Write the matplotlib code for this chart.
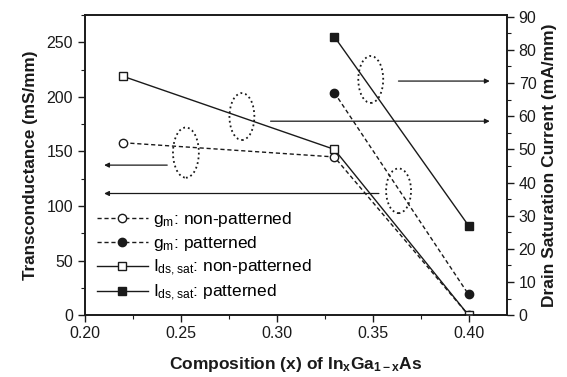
import matplotlib
matplotlib.use("Agg")
import matplotlib.pyplot as plt
from matplotlib.patches import Ellipse
from matplotlib.ticker import MultipleLocator

plt.rcParams['font.family'] = ['Liberation Sans', 'DejaVu Sans']
plt.rcParams['mathtext.fontset'] = 'custom'
plt.rcParams['mathtext.rm'] = 'Liberation Sans'
plt.rcParams['mathtext.it'] = 'Liberation Sans'
plt.rcParams['mathtext.bf'] = 'Liberation Sans:bold'

# composition x
x_np = [0.22, 0.33, 0.40]
x_p = [0.33, 0.40]

# transconductance (mS/mm), left axis
gm_nonpat = [158, 145, 0]
gm_pat = [204, 19]

# drain saturation current (mA/mm), right axis
ids_nonpat = [72, 50, 0]
ids_pat = [84, 27]

ink = "#1a1a1a"

fig = plt.figure(figsize=(5.67, 3.77), dpi=100)
ax = fig.add_axes([0.150, 0.164, 0.744, 0.796])
ax2 = ax.twinx()

l1, = ax.plot(x_np, gm_nonpat, '--', color=ink, lw=1.0, dashes=(3, 2),
              marker='o', ms=6, mfc='white', mec=ink, mew=1.0)
l2, = ax.plot(x_p, gm_pat, '--', color=ink, lw=1.0, dashes=(3, 2),
              marker='o', ms=6, mfc=ink, mec=ink)
l3, = ax2.plot(x_np, ids_nonpat, '-', color=ink, lw=1.0,
               marker='s', ms=6, mfc='white', mec=ink, mew=1.0)
l4, = ax2.plot(x_p, ids_pat, '-', color=ink, lw=1.0,
               marker='s', ms=6, mfc=ink, mec=ink)

ax.set_xlim(0.20, 0.42)
ax.set_ylim(0, 275)
ax2.set_ylim(0, 90.5)

# dotted ellipses grouping curves
for cx, cy, w, h in [(0.2526, 149, 0.0135, 46), (0.2818, 182, 0.013, 43),
                     (0.349, 216, 0.013, 43), (0.3635, 114, 0.013, 41)]:
    ax.add_patch(Ellipse((cx, cy), w, h, fill=False, ls=':', lw=1.3, ec=ink))

# arrows pointing to the axes
arr = dict(arrowstyle='-|>', color=ink, lw=0.9, mutation_scale=7)
ax.annotate('', xy=(0.2085, 137.5), xytext=(0.2443, 137.5), arrowprops=arr)
ax.annotate('', xy=(0.2085, 111.5), xytext=(0.3547, 111.5), arrowprops=arr)
ax2.annotate('', xy=(0.4125, 58.5), xytext=(0.2953, 58.5), arrowprops=arr)
ax2.annotate('', xy=(0.4125, 70.6), xytext=(0.362, 70.6), arrowprops=arr)

ax.set_xticks([0.20, 0.25, 0.30, 0.35, 0.40])
ax.set_xticklabels(['0.20', '0.25', '0.30', '0.35', '0.40'])
ax.xaxis.set_minor_locator(MultipleLocator(0.025))
ax.set_yticks([0, 50, 100, 150, 200, 250])
ax.yaxis.set_minor_locator(MultipleLocator(25))
ax2.set_yticks(range(0, 91, 10))
ax2.yaxis.set_minor_locator(MultipleLocator(5))

for a in (ax, ax2):
    a.tick_params(which='major', length=5, width=1.0, labelsize=11.5, color=ink, labelcolor=ink)
    a.tick_params(which='minor', length=3, width=0.8, color=ink)
    for s in a.spines.values():
        s.set_linewidth(1.2)
        s.set_color(ink)
ax.tick_params(axis='x', which='both', top=False, pad=3)

ax.set_ylabel('Transconductance (mS/mm)', fontsize=12.3, fontweight='bold', color=ink, labelpad=6)
ax2.set_ylabel('Drain Saturation Current (mA/mm)', fontsize=12.5, fontweight='bold', color=ink, labelpad=4)
ax.set_xlabel(r'Composition (x) of In$_\mathbf{x}$Ga$_\mathbf{1-x}$As', fontsize=12.5,
              fontweight='bold', color=ink, labelpad=10)

ax.legend([l1, l2, l3, l4],
          [r'g$_\mathrm{m}$: non-patterned', r'g$_\mathrm{m}$: patterned',
           r'I$_\mathrm{ds,sat}$: non-patterned', r'I$_\mathrm{ds,sat}$: patterned'],
          loc='lower left', bbox_to_anchor=(0.0, 0.0), frameon=False, fontsize=12.5,
          handlelength=2.9, handletextpad=0.3, labelspacing=0.28, borderaxespad=0.3)

fig.savefig("out.png", dpi=100)
